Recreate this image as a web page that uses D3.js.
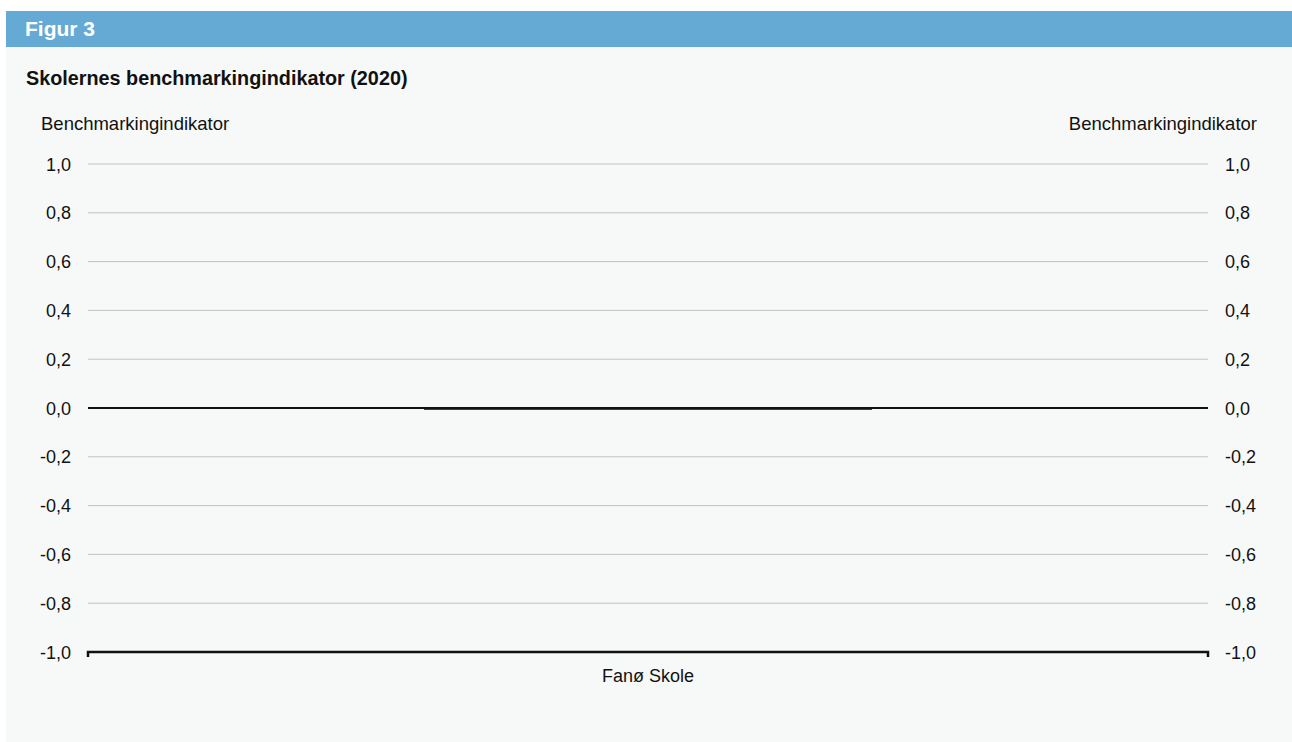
<!DOCTYPE html>
<html>
<head>
<meta charset="utf-8">
<script src="https://cdn.jsdelivr.net/npm/d3@7"></script>
<style>
  body { margin: 0; background: #ffffff; font-family: "Liberation Sans", Arial, sans-serif; }
  svg { display: block; }
</style>
</head>
<body>
<div id="chart"></div>
<script>
// Skolernes benchmarkingindikator (2020)
const schools = ['Fanø Skole'];
const indicator = [-0.008];
const yTicks = [-1.0, -0.8, -0.6, -0.4, -0.2, 0.0, 0.2, 0.4, 0.6, 0.8, 1.0];

const width = 1292, height = 742;
const plot = { left: 88, right: 1208, top: 164, bottom: 652 };

const svg = d3.select('#chart').append('svg')
    .attr('width', width)
    .attr('height', height);

// Panel + header
svg.append('rect').attr('x', 6).attr('y', 11).attr('width', width - 6).attr('height', height - 11).attr('fill', '#f7f9f9');
svg.append('rect').attr('x', 6).attr('y', 11).attr('width', width - 6).attr('height', 36).attr('fill', '#65aad5');
svg.append('text').attr('x', 25).attr('y', 36).text('Figur 3')
    .attr('fill', '#ffffff').attr('font-size', '21px').attr('font-weight', 'bold');

svg.append('text').attr('x', 26).attr('y', 85).text('Skolernes benchmarkingindikator (2020)')
    .attr('fill', '#111').attr('font-size', '19.8px').attr('font-weight', 'bold');

svg.append('text').attr('x', 41).attr('y', 129.5).text('Benchmarkingindikator')
    .attr('fill', '#111').attr('font-size', '18.5px');
svg.append('text').attr('x', 1257).attr('y', 129.5).attr('text-anchor', 'end').text('Benchmarkingindikator')
    .attr('fill', '#111').attr('font-size', '18.5px');

const x = d3.scaleBand().domain(schools).range([plot.left, plot.right]).paddingInner(0).paddingOuter(0.75);
const y = d3.scaleLinear().domain([-1, 1]).range([plot.bottom, plot.top]);
const fmt = d => d3.format('.1f')(d).replace('.', ',').replace('−', '-');

// Gridlines
svg.append('g').selectAll('line')
    .data(yTicks.filter(t => t !== -1 && t !== 0))
    .join('line')
    .attr('x1', plot.left).attr('x2', plot.right)
    .attr('y1', d => y(d)).attr('y2', d => y(d))
    .attr('stroke', '#c2c2c2').attr('stroke-width', 1);

// Tick labels
svg.append('g').selectAll('text')
    .data(yTicks).join('text')
    .attr('x', 71).attr('y', d => y(d) + 6.5)
    .attr('text-anchor', 'end').attr('font-size', '18px').attr('fill', '#111')
    .text(fmt);
svg.append('g').selectAll('text')
    .data(yTicks).join('text')
    .attr('x', 1225).attr('y', d => y(d) + 6.5)
    .attr('text-anchor', 'start').attr('font-size', '18px').attr('fill', '#111')
    .text(fmt);

// Bars
svg.append('g').selectAll('rect')
    .data(schools).join('rect')
    .attr('x', d => x(d))
    .attr('width', x.bandwidth())
    .attr('y', (d, i) => y(Math.max(0, indicator[i])))
    .attr('height', (d, i) => Math.max(1, Math.abs(y(indicator[i]) - y(0))))
    .attr('fill', '#1d3f5e');

// Zero line
svg.append('line')
    .attr('x1', plot.left).attr('x2', plot.right)
    .attr('y1', y(0)).attr('y2', y(0))
    .attr('stroke', '#111').attr('stroke-width', 2);

// Bottom axis
svg.append('path')
    .attr('d', `M${plot.left},${y(-1) + 5}V${y(-1)}H${plot.right}V${y(-1) + 5}`)
    .attr('fill', 'none').attr('stroke', '#111').attr('stroke-width', 2.5);

svg.append('g').selectAll('text')
    .data(schools).join('text')
    .attr('x', d => x(d) + x.bandwidth() / 2)
    .attr('y', 682)
    .attr('text-anchor', 'middle').attr('font-size', '18px').attr('fill', '#111')
    .text(d => d);
</script>
</body>
</html>
